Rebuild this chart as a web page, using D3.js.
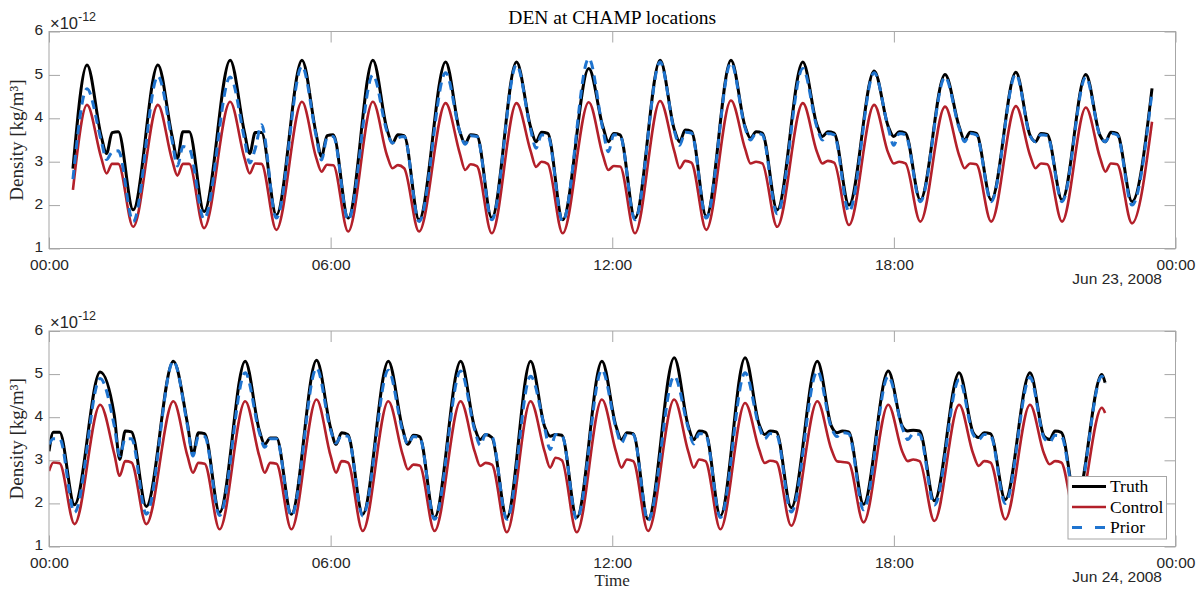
<!DOCTYPE html>
<html><head><meta charset="utf-8">
<script src="https://cdn.jsdelivr.net/npm/d3@7"></script>
<style>body{margin:0;background:#fff} svg{display:block}</style>
</head><body><svg id="chart" width="1203" height="590"></svg>
<script>
// ---------------- data ----------------
const seriesNames = ["Truth", "Control", "Prior"];
const titleText = "DEN at CHAMP locations";
const dayLabels = ["Jun 23, 2008", "Jun 24, 2008"];
const yTicks = [1, 2, 3, 4, 5, 6];
const xTickHours = [0, 6, 12, 18, 24];
// key points of every orbit, minutes after its density peak:
// peak, shoulder, dip, plateau start, plateau end, minimum
const keyOffsetsMin = [0, 18, 25, 32, 40, 59];

// ---- panel 1 (Jun 22) ----
const peakHoursTop = [0.81, 2.32, 3.86, 5.39, 6.90, 8.45, 9.96, 11.50, 13.02, 14.53, 16.06, 17.58, 19.09, 20.60, 22.09];
const truthTop = [
  [5.23, 3.60, 3.19, 3.67, 3.69, 1.89], [5.23, 3.60, 3.08, 3.69, 3.69, 1.85], [5.34, 3.70, 3.19, 3.67, 3.67, 1.77],
  [5.34, 3.65, 3.12, 3.60, 3.62, 1.70], [5.34, 3.75, 3.43, 3.62, 3.60, 1.66], [5.30, 3.70, 3.42, 3.62, 3.60, 1.70],
  [5.30, 3.80, 3.46, 3.68, 3.65, 1.66], [5.15, 3.81, 3.46, 3.65, 3.62, 1.70], [5.34, 3.75, 3.46, 3.73, 3.70, 1.74],
  [5.34, 3.81, 3.54, 3.69, 3.66, 1.89], [5.30, 3.85, 3.58, 3.69, 3.66, 2.00], [5.09, 3.81, 3.58, 3.69, 3.66, 2.12],
  [5.01, 3.81, 3.50, 3.68, 3.65, 2.12], [5.06, 3.61, 3.46, 3.65, 3.63, 2.12], [5.01, 3.61, 3.46, 3.68, 3.65, 2.08]];
const controlTop = [
  [4.31, 3.10, 2.73, 2.95, 2.95, 1.50], [4.31, 3.05, 2.68, 2.95, 2.95, 1.47], [4.38, 3.10, 2.73, 2.96, 2.95, 1.43],
  [4.38, 3.10, 2.77, 2.93, 2.92, 1.39], [4.38, 3.15, 2.85, 2.92, 2.85, 1.39], [4.35, 3.20, 2.81, 2.94, 2.90, 1.35],
  [4.35, 3.25, 2.88, 3.00, 2.95, 1.35], [4.37, 3.15, 2.81, 2.90, 2.89, 1.35], [4.40, 3.25, 2.85, 3.02, 2.98, 1.43],
  [4.41, 3.30, 2.96, 3.00, 2.96, 1.50], [4.35, 3.23, 2.96, 3.02, 2.98, 1.54], [4.31, 3.20, 2.96, 3.00, 2.96, 1.62],
  [4.27, 3.15, 2.85, 2.96, 2.94, 1.62], [4.28, 3.15, 2.85, 2.96, 2.94, 1.62], [4.25, 3.10, 2.77, 2.96, 2.94, 1.58]];
const priorTop = [
  [4.68, 3.50, 3.05, 3.22, 3.25, 1.62], [4.97, 3.50, 2.90, 3.35, 3.30, 1.68], [4.95, 3.55, 2.97, 3.30, 3.85, 1.70],
  [5.20, 3.60, 3.04, 3.55, 3.58, 1.66], [5.00, 3.70, 3.43, 3.55, 3.58, 1.62], [5.05, 3.70, 3.40, 3.60, 3.58, 1.66],
  [5.23, 3.75, 3.31, 3.62, 3.60, 1.62], [5.38, 3.75, 3.23, 3.62, 3.60, 1.66], [5.30, 3.72, 3.38, 3.68, 3.66, 1.70],
  [5.28, 3.78, 3.50, 3.66, 3.62, 1.80], [5.15, 3.80, 3.50, 3.65, 3.62, 1.85], [5.05, 3.78, 3.38, 3.65, 3.62, 2.08],
  [4.95, 3.78, 3.46, 3.65, 3.62, 2.08], [5.02, 3.60, 3.46, 3.62, 3.60, 2.08], [4.95, 3.60, 3.46, 3.65, 3.62, 2.00]];
const startTop = [0.51, 2.84, 2.35, 2.60];   // hour, truth, control, prior
const endTop = [23.50, 4.69, 3.92, 4.62];

// ---- panel 2 (Jun 23) ----
const peakHoursBottom = [-0.44, 1.09, 2.65, 4.18, 5.70, 7.23, 8.77, 10.26, 11.78, 13.32, 14.83, 16.37, 17.88, 19.39, 20.90, 22.43];
const truthBottom = [
  [null, null, null, 3.65, 3.65, 1.97],
  [5.05, 4.05, 3.02, 3.68, 3.66, 1.93], [5.30, 3.85, 3.14, 3.64, 3.62, 1.79], [5.30, 3.70, 3.37, 3.52, 3.52, 1.75],
  [5.32, 3.75, 3.37, 3.64, 3.60, 1.75], [5.30, 3.75, 3.37, 3.58, 3.55, 1.67], [5.30, 3.75, 3.48, 3.60, 3.53, 1.67],
  [5.30, 3.78, 3.56, 3.60, 3.58, 1.67], [5.30, 3.79, 3.48, 3.64, 3.62, 1.63], [5.38, 3.79, 3.48, 3.68, 3.65, 1.71],
  [5.38, 3.83, 3.60, 3.68, 3.66, 1.90], [5.30, 3.79, 3.64, 3.68, 3.66, 1.98], [5.07, 3.79, 3.68, 3.70, 3.68, 2.06],
  [5.03, 3.64, 3.53, 3.64, 3.62, 2.09], [5.03, 3.56, 3.48, 3.68, 3.65, 2.02],
  [4.99, null, null, null, null, null]];
const controlBottom = [
  [null, null, null, 2.95, 2.93, 1.52],
  [4.29, 3.15, 2.64, 2.98, 2.95, 1.52], [4.37, 3.10, 2.71, 2.94, 2.92, 1.40], [4.37, 3.10, 2.71, 2.94, 2.92, 1.40],
  [4.41, 3.10, 2.71, 2.98, 2.95, 1.36], [4.37, 3.15, 2.79, 2.90, 2.88, 1.36], [4.37, 3.20, 2.87, 2.94, 2.90, 1.33],
  [4.37, 3.20, 2.83, 3.06, 3.00, 1.33], [4.41, 3.20, 2.83, 3.02, 2.98, 1.36], [4.41, 3.20, 2.83, 3.02, 2.98, 1.40],
  [4.33, 3.25, 2.94, 2.99, 2.96, 1.48], [4.37, 3.25, 2.98, 2.96, 2.94, 1.56], [4.29, 3.20, 2.98, 3.02, 2.98, 1.59],
  [4.29, 3.15, 2.87, 2.98, 2.95, 1.63], [4.29, 3.15, 2.91, 2.98, 2.95, 1.60],
  [4.22, null, null, null, null, null]];
const priorBottom = [
  [null, null, null, 3.50, 3.50, 1.79],
  [4.90, 3.80, 3.10, 3.50, 3.50, 1.75], [5.30, 3.80, 3.10, 3.55, 3.55, 1.72], [5.03, 3.65, 3.30, 3.50, 3.50, 1.71],
  [5.14, 3.70, 3.40, 3.58, 3.56, 1.71], [5.09, 3.70, 3.37, 3.55, 3.53, 1.63], [5.07, 3.70, 3.35, 3.60, 3.55, 1.63],
  [4.95, 3.75, 3.25, 3.60, 3.58, 1.63], [5.10, 3.75, 3.40, 3.62, 3.60, 1.60], [4.95, 3.75, 3.38, 3.62, 3.60, 1.67],
  [5.03, 3.78, 3.50, 3.62, 3.60, 1.80], [5.07, 3.75, 3.55, 3.64, 3.62, 1.85], [4.95, 3.75, 3.48, 3.62, 3.60, 1.96],
  [4.87, 3.60, 3.48, 3.60, 3.58, 2.00], [4.93, 3.52, 3.42, 3.58, 3.56, 1.96],
  [4.95, null, null, null, null, null]];
const startBottom = [0.00, 3.21, 2.75, 3.37];
const endBottom = [22.50, 4.80, 4.10, 4.78];

// ---------------- drawing ----------------
const svg = d3.select("#chart");
const left = 49, right = 1175.5;
const panels = [
  {top: 31.5, bottom: 248.5, peaks: peakHoursTop, rows: [truthTop, controlTop, priorTop], start: startTop, end: endTop, day: dayLabels[0]},
  {top: 331, bottom: 546.5, peaks: peakHoursBottom, rows: [truthBottom, controlBottom, priorBottom], start: startBottom, end: endBottom, day: dayLabels[1]}
];
const styles = [
  {color: "#000000", width: 3, dash: null},
  {color: "#b3202a", width: 2.6, dash: null},
  {color: "#1f74cf", width: 3, dash: "9,6"}
];
const axisColor = "#a6a6a6", textColor = "#262626";
const sansFont = "'Liberation Sans', Arial, Helvetica, sans-serif";
const serifFont = "'Liberation Serif', 'Times New Roman', serif";

const x = d3.scaleLinear().domain([0, 24]).range([left, right]);
const fmtHour = h => d3.format("02d")(h % 24) + ":00";

function buildSeries(p, si) {
  const pts = [{t: p.start[0], v: p.start[si + 1]}];
  p.peaks.forEach((pk, i) => {
    const row = p.rows[si][i];
    keyOffsetsMin.forEach((off, k) => {
      const t = pk + off / 60, v = row[k];
      if (v != null && t > p.start[0] && t < p.end[0]) pts.push({t, v});
    });
  });
  pts.push({t: p.end[0], v: p.end[si + 1]});
  return pts;
}

panels.forEach((p, pi) => {
  const y = d3.scaleLinear().domain([1, 6]).range([p.bottom, p.top]);
  const g = svg.append("g");
  const clipId = "clip" + pi;
  svg.append("clipPath").attr("id", clipId).append("rect")
    .attr("x", left).attr("y", p.top).attr("width", right - left).attr("height", p.bottom - p.top);

  const line = d3.line().x(d => x(d.t)).y(d => y(d.v)).curve(d3.curveMonotoneX);
  const lg = g.append("g").attr("clip-path", `url(#${clipId})`);
  seriesNames.forEach((name, si) => {
    const st = styles[si];
    lg.append("path").datum(buildSeries(p, si))
      .attr("d", line).attr("fill", "none")
      .attr("stroke", st.color).attr("stroke-width", st.width)
      .attr("stroke-linejoin", "round").attr("stroke-linecap", "butt")
      .attr("stroke-dasharray", st.dash);
  });

  // axes
  const tick = 11;
  const styleAxis = (sel, labels) => {
    sel.select(".domain").remove();
    sel.selectAll(".tick line").attr("stroke", axisColor);
    sel.selectAll("text").attr("fill", textColor).style("font-family", sansFont).style("font-size", "15.5px");
    if (!labels) sel.selectAll("text").remove();
  };
  g.append("g").attr("transform", `translate(${left},0)`)
    .call(d3.axisLeft(y).tickValues(yTicks).tickFormat(d3.format("d")).tickSizeInner(-tick).tickSizeOuter(0).tickPadding(6))
    .call(s => styleAxis(s, true))
    .call(s => s.selectAll("text").attr("dy", "0.22em"));
  g.append("g").attr("transform", `translate(${right},0)`)
    .call(d3.axisRight(y).tickValues(yTicks).tickSizeInner(-tick).tickSizeOuter(0))
    .call(s => styleAxis(s, false));
  g.append("g").attr("transform", `translate(0,${p.bottom})`)
    .call(d3.axisBottom(x).tickValues(xTickHours).tickFormat(fmtHour).tickSizeInner(-tick).tickSizeOuter(0).tickPadding(10))
    .call(s => styleAxis(s, true));
  g.append("g").attr("transform", `translate(0,${p.top})`)
    .call(d3.axisTop(x).tickValues(xTickHours).tickSizeInner(-tick).tickSizeOuter(0))
    .call(s => styleAxis(s, false));
  g.append("rect").attr("x", left).attr("y", p.top).attr("width", right - left).attr("height", p.bottom - p.top)
    .attr("fill", "none").attr("stroke", axisColor).attr("stroke-width", 1);

  // exponent label
  const ex = g.append("text").attr("x", left + 1).attr("y", p.top - 3)
    .attr("fill", textColor).style("font-family", sansFont).style("font-size", "16.5px");
  ex.append("tspan").text("×10");
  ex.append("tspan").attr("dy", -8).style("font-size", "12.5px").text("-12");

  // date label
  g.append("text").attr("x", 1162).attr("y", p.bottom + 35.5).attr("text-anchor", "end")
    .attr("fill", textColor).style("font-family", sansFont).style("font-size", "15.5px").text(p.day);

  // y label
  g.append("text").attr("transform", `translate(23,${(p.top + p.bottom) / 2}) rotate(-90)`)
    .attr("text-anchor", "middle").attr("fill", textColor)
    .style("font-family", serifFont).style("font-size", "19px").text("Density [kg/m³]");
});

// title
svg.append("text").attr("x", (left + right) / 2).attr("y", 24).attr("text-anchor", "middle")
  .attr("fill", "#000").style("font-family", serifFont).style("font-size", "19.5px").text(titleText);
// x label
svg.append("text").attr("x", (left + right) / 2).attr("y", 585.5).attr("text-anchor", "middle")
  .attr("fill", textColor).style("font-family", serifFont).style("font-size", "17px").text("Time");

// legend
const lgd = svg.append("g");
lgd.append("rect").attr("x", 1068).attr("y", 476.5).attr("width", 98.5).attr("height", 62.5)
  .attr("fill", "#fff").attr("stroke", axisColor).attr("stroke-width", 1);
seriesNames.forEach((name, si) => {
  const cy = 486.5 + si * 20.5, st = styles[si];
  lgd.append("line").attr("x1", 1072).attr("x2", 1106).attr("y1", cy).attr("y2", cy)
    .attr("stroke", st.color).attr("stroke-width", st.width).attr("stroke-dasharray", si === 2 ? "10,13" : null);
  lgd.append("text").attr("x", 1110).attr("y", cy + 5.5).attr("fill", "#000")
    .style("font-family", serifFont).style("font-size", "17.5px").text(name);
});
</script></body></html>
